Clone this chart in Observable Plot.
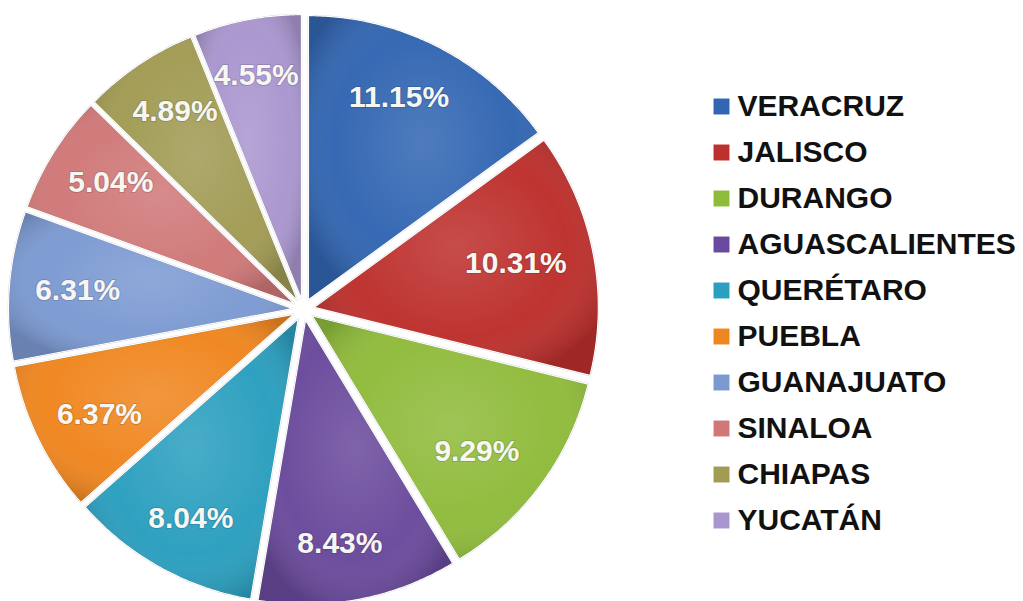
<!DOCTYPE html>
<html><head><meta charset="utf-8">
<script src="https://cdn.jsdelivr.net/npm/d3@7"></script>
<script src="https://cdn.jsdelivr.net/npm/@observablehq/plot@0.6"></script>
<style>
html,body{margin:0;padding:0;background:#fff;}
#wrap{display:flex;width:1023px;height:601px;overflow:hidden;}
#wrap svg{display:block;}
</style></head><body><div id="wrap"></div>
<script>
const states = ["VERACRUZ","JALISCO","DURANGO","AGUASCALIENTES","QUERÉTARO","PUEBLA","GUANAJUATO","SINALOA","CHIAPAS","YUCATÁN"];
const shares = [11.15,10.31,9.29,8.43,8.04,6.37,6.31,5.04,4.89,4.55];
const colors = ["#3266b2","#bd302d","#8fbb3b","#6a4a9c","#2b9fbf","#f0861f","#7c9ad2","#d07878","#a19b54","#aa96cf"];

const R = 284, CX = 303, CY = 309, W1 = 640, H = 601;
const explode = 11 / R;
const arcs = d3.pie().sort(null).value(d => d)(shares);
const poly = [];
const labelData = [];
arcs.forEach((a, i) => {
  const mid = (a.startAngle + a.endAngle) / 2;
  const ox = explode * Math.sin(mid), oy = explode * Math.cos(mid);
  poly.push({state: states[i], x: ox, y: oy});
  const n = Math.max(2, Math.ceil((a.endAngle - a.startAngle) / 0.01));
  for (let k = 0; k <= n; k++) {
    const t = a.startAngle + (a.endAngle - a.startAngle) * k / n;
    poly.push({state: states[i], x: ox + Math.sin(t), y: oy + Math.cos(t)});
  }
  labelData.push({state: states[i], label: shares[i].toFixed(2) + "%", x: 0.78 * Math.sin(mid), y: 0.84 * Math.cos(mid)});
});

// shading gradient definition (bevel-like look)
const defs = () => {
  const d = d3.create("svg:defs");
  const g = d.append("radialGradient").attr("id", "shade").attr("cx", "50%").attr("cy", "45%").attr("r", "60%");
  g.append("stop").attr("offset", "0%").attr("stop-color", "#fff").attr("stop-opacity", 0.14);
  g.append("stop").attr("offset", "65%").attr("stop-color", "#fff").attr("stop-opacity", 0.02);
  g.append("stop").attr("offset", "100%").attr("stop-color", "#000").attr("stop-opacity", 0.16);
  return d.node();
};

const pie = Plot.plot({
  width: W1, height: H, margin: 0,
  style: {background: "white"},
  x: {domain: [-CX / R, (W1 - CX) / R], axis: null},
  y: {domain: [-(H - CY) / R, CY / R], axis: null},
  color: {domain: states, range: colors},
  marks: [
    defs,
    Plot.line(poly, {x: "x", y: "y", z: "state", fill: "state", stroke: "none", curve: "linear-closed"}),
    Plot.line(poly, {x: "x", y: "y", z: "state", fill: "url(#shade)", stroke: "#000", strokeOpacity: 0.22, strokeWidth: 1.5, curve: "linear-closed"}),
    Plot.line(poly, {x: "x", y: "y", z: "state", fill: "none", stroke: "white", strokeWidth: 1.2, curve: "linear-closed"}),
    Plot.text(labelData, {x: "x", y: "y", text: "label", dx: -5, fill: "#f6f6f2", fontSize: 30, fontWeight: "bold", fontFamily: "Liberation Sans, Arial, sans-serif", stroke: "#000", strokeOpacity: 0.15, strokeWidth: 2})
  ]
});

const legend = Plot.plot({
  width: 1023 - W1, height: H, margin: 0,
  style: {background: "white"},
  x: {axis: null},
  y: {type: "point", padding: 0, domain: states, range: [105, 520], axis: null},
  color: {domain: states, range: colors},
  marks: [
    Plot.dot(states, {y: d => d, frameAnchor: "left", dx: 81, symbol: "square", r: 9, fill: d => d}),
    Plot.text(states, {y: d => d, frameAnchor: "left", dx: 97, text: d => d, textAnchor: "start", fill: "#111", fontSize: 30, fontWeight: "bold", fontFamily: "Liberation Sans, Arial, sans-serif"})
  ]
});

document.getElementById("wrap").append(pie, legend);
</script></body></html>
